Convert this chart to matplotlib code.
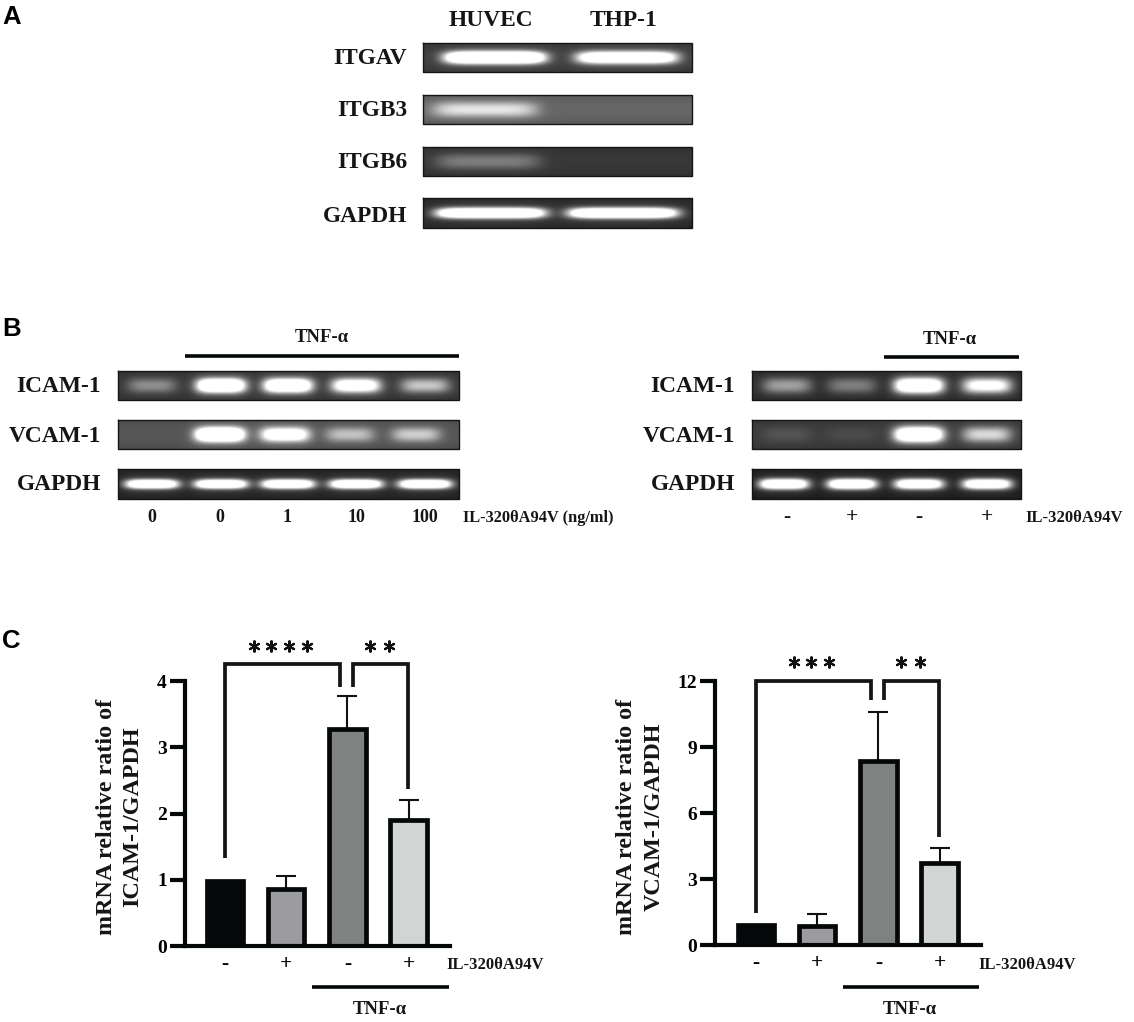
import numpy as np
import matplotlib
matplotlib.use("Agg")
import matplotlib.pyplot as plt

plt.rcParams['font.family'] = ['Liberation Serif', 'DejaVu Serif']
plt.rcParams['font.weight'] = 'bold'

# ---- data ----
groups = ['-', '+', '-', '+']
icam_vals = [0.98, 0.86, 3.27, 1.90]
icam_tops = [0.98, 1.05, 3.77, 2.20]
vcam_vals = [0.93, 0.85, 8.35, 3.72]
vcam_tops = [0.93, 1.40, 10.58, 4.43]
bar_colors = ['#050808', '#9c9ba0', '#808282', '#d3d5d5']
icam_ticks = [0, 1, 2, 3, 4]
vcam_ticks = [0, 3, 6, 9, 12]

# band brightness per lane
a_itgav = [1.5, 1.2]
a_itgb3 = [0.45, 0.0]
a_itgb6 = [0.24, 0.0]
a_gapdh = [1.5, 1.5]
bl_icam = [0.30, 1.4, 1.3, 1.0, 0.5]
bl_vcam = [0.0, 1.4, 0.9, 0.38, 0.42]
bl_gapdh = [1.4, 1.4, 1.4, 1.4, 1.4]
br_icam = [0.40, 0.28, 1.3, 0.85]
br_vcam = [0.08, 0.05, 1.3, 0.55]
br_gapdh = [1.4, 1.4, 1.3, 1.3]
dose_labels = ['0', '0', '1', '10', '100']

W, H = 1134, 1022
fig = plt.figure(figsize=(W / 100, H / 100), dpi=100)


def bar_panel(left, right, bottom, top, x0, vals, tops, ymax, ticks):
    ax = fig.add_axes([left / W, 1 - bottom / H, (right - left) / W, (bottom - top) / H])
    step = 61.2
    x = np.arange(4)
    ax.set_xlim((left - x0) / step, (right - x0) / step)
    ax.set_ylim(0, ymax)
    ax.patch.set_alpha(0)
    err = [np.zeros(4), np.array(tops) - np.array(vals)]
    ax.errorbar(x[1:], vals[1:], yerr=[err[0][1:], err[1][1:]], fmt='none', ecolor='#111111',
                elinewidth=1.5, capsize=7, capthick=1.5, zorder=1, clip_on=False)
    ax.bar(x, vals, width=36.5 / step, color=bar_colors, edgecolor='#050808', linewidth=3.4, zorder=2)
    for s in ('top', 'right'):
        ax.spines[s].set_visible(False)
    for s in ('left', 'bottom'):
        ax.spines[s].set_linewidth(3)
        ax.spines[s].set_color('#050808')
    ax.set_yticks(ticks)
    ax.set_xticks(x, groups)
    ax.tick_params(axis='y', length=11, width=3, color='#050808', labelsize=14, pad=2)
    ax.tick_params(axis='x', length=0, labelsize=15.5, pad=6)
    return ax


bar_panel(185, 450, 946, 681, 225, icam_vals, icam_tops, 4, icam_ticks)
bar_panel(715, 981, 945, 681, 756, vcam_vals, vcam_tops, 12, vcam_ticks)

ov = fig.add_axes([0, 0, 1, 1], zorder=5)
ov.set_xlim(0, W)
ov.set_ylim(H, 0)
ov.axis('off')
ov.patch.set_alpha(0)


def gel(x0, x1, y0, y1, bg, lanes, amps, hw=26, hh=6.5, power=4, edge=0.12):
    xs = np.arange(x0, x1, 1.0) + .5
    ys = np.arange(y0, y1, 0.5) + .25
    X, Y = np.meshgrid(xs, ys)
    yc = (y0 + y1) / 2
    base = bg * (1 - edge * np.abs((Y - yc) / (y1 - y0) * 2) ** 2)
    img = base.copy()
    for c, a in zip(lanes, amps):
        if a <= 0:
            continue
        core = np.exp(-np.abs((X - c) / hw) ** power - np.abs((Y - yc) / hh) ** 2.4)
        glow = np.exp(-np.abs((X - c) / (hw + 6)) ** 4 - np.abs((Y - yc) / (hh + 6)) ** 2)
        img = img + a * core + 0.12 * min(a, 1) * glow
    ov.imshow(np.clip(img, 0, 1), cmap='gray', vmin=0, vmax=1, extent=(x0, x1, y1, y0),
              aspect='auto', interpolation='bilinear', zorder=1)
    ov.plot([x0, x1, x1, x0, x0], [y0, y0, y1, y1, y0], color='#151515', lw=1.0, zorder=2)


# Panel A
gel(423, 692, 43, 72, .24, [495, 627], a_itgav, hw=50, hh=6, power=6)
gel(423, 692, 95, 124, .40, [485, 627], a_itgb3, hw=52, hh=7.5, power=6)
gel(423, 692, 147, 176, .22, [488, 627], a_itgb6, hw=52, hh=7.5, power=6)
gel(423, 692, 198, 228, .17, [491, 623], a_gapdh, hw=54, hh=5, power=6)

# Panel B left
bl_lanes = [152, 221, 288, 356, 425]
gel(118, 459, 371, 400, .22, bl_lanes, bl_icam, hw=24, hh=7)
gel(118, 459, 420, 449, .34, [152, 220, 285, 350, 416], bl_vcam, hw=24, hh=7)
gel(118, 459, 469, 499, .14, bl_lanes, bl_gapdh, hw=26, hh=4.5)

# Panel B right
br_lanes = [787, 852, 919, 987]
gel(752, 1021, 371, 400, .18, br_lanes, br_icam, hw=24, hh=7.5)
gel(752, 1021, 420, 449, .24, br_lanes, br_vcam, hw=24, hh=7.5)
gel(752, 1021, 469, 499, .12, [784, 852, 919, 987], br_gapdh, hw=24, hh=5)


def T(x, y, s, size=16.8, ha='center', **kw):
    ov.text(x, y, s, fontsize=size, ha=ha, va='center', color='#151515', zorder=6, **kw)


# panel letters
for (x, y, s) in [(2, 17, 'A'), (2, 329, 'B'), (2, 641, 'C')]:
    ov.text(x, y, s, fontsize=18.5, family='Liberation Sans', fontweight='bold', ha='left', va='center', color='black')

T(491, 20, 'HUVEC')
T(623, 20, 'THP-1')
for y, s in [(58, 'ITGAV'), (111, 'ITGB3'), (163, 'ITGB6'), (216, 'GAPDH')]:
    T(407, y, s, ha='right')
for xr in (101, 735):
    for y, s in [(387, 'ICAM-1'), (436, 'VCAM-1'), (485, 'GAPDH')]:
        T(xr, y, s, ha='right')

# treatment bars
for xa, xb, y in [(185, 459, 356), (884, 1019, 357), (312, 449, 987), (843, 979, 987)]:
    ov.plot([xa, xb], [y, y], color='#050808', lw=2.6, solid_capstyle='butt')
T(322, 337, 'TNF-α', 13.5)
T(950, 340, 'TNF-α', 13.5)
T(380, 1009, 'TNF-α', 13.5)
T(910, 1009, 'TNF-α', 13.5)

for x, s in zip([152, 220, 287, 356, 425], dose_labels):
    T(x, 518, s, 13)
T(463, 518, 'IL-320θA94V (ng/ml)', 11.8, ha='left')
for x, s in zip([787, 852, 919, 987], groups):
    T(x, 517, s, 15.5)
T(1025, 518, 'IL-320θA94V', 12, ha='left')
T(446, 965, 'IL-320θA94V', 12, ha='left')
T(978, 965, 'IL-320θA94V', 12, ha='left')

# axis titles
T(107, 817, 'mRNA relative ratio of', 17.4, rotation=90)
T(133, 817, 'ICAM-1/GAPDH', 17.4, rotation=90)
T(626, 817, 'mRNA relative ratio of', 17.4, rotation=90)
T(654, 817, 'VCAM-1/GAPDH', 17.4, rotation=90)


# significance brackets
def bracket(xa, ya, xb, yb, ytop):
    ov.plot([xa, xa, xb, xb], [ya, ytop, ytop, yb], color='#151515', lw=2.7, solid_joinstyle='miter', solid_capstyle='butt')


bracket(225, 858, 340, 687, 664)
bracket(353, 687, 408, 789, 664)
bracket(756, 913, 871, 700, 681)
bracket(884, 700, 939, 837, 681)


def stars(xs, y):
    for x in xs:
        ov.plot([x], [y], marker=(6, 2, 0), ms=8.5, mew=1.5, color='#111111', ls='none')


stars([254, 271, 289, 307], 646)
stars([370, 389], 646)
stars([794, 811, 829], 662)
stars([901, 920], 662)

fig.savefig('out.png', dpi=100)
